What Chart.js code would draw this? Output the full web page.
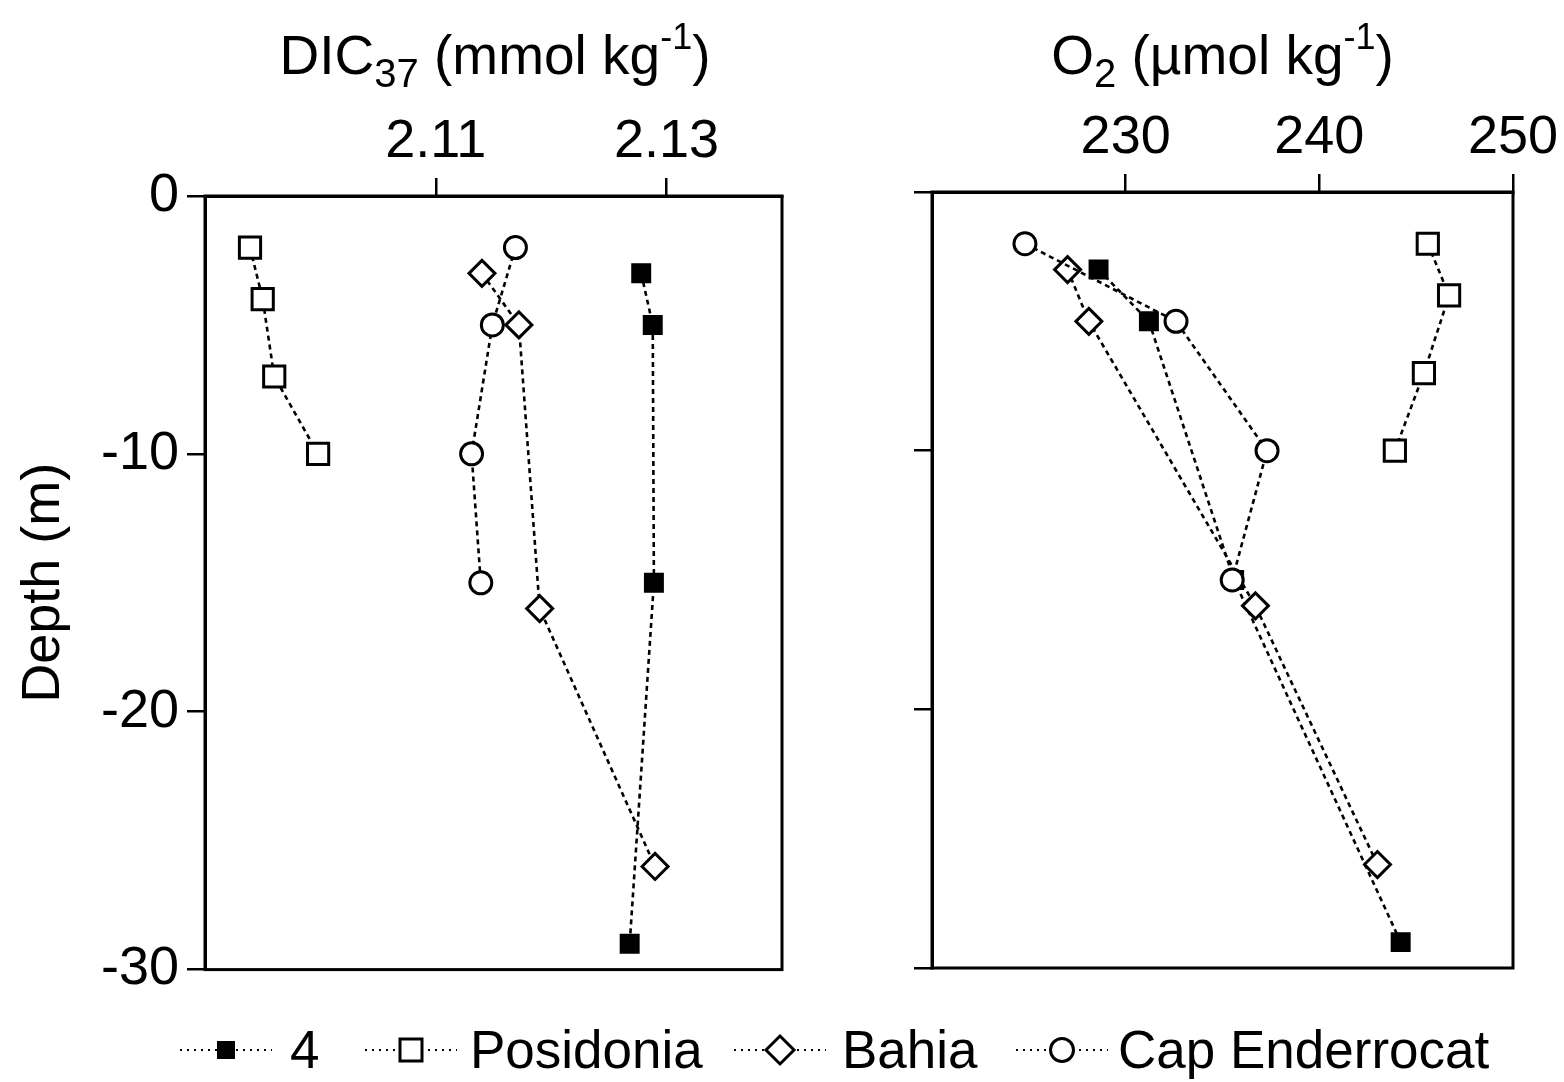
<!DOCTYPE html>
<html>
<head>
<meta charset="utf-8">
<script src="https://cdn.jsdelivr.net/npm/chart.js@4.4.1/dist/chart.umd.min.js"></script>
<style>
  body { margin: 0; background: #fff; width: 1564px; height: 1082px; overflow: hidden; position: relative;
         font-family: 'Liberation Sans', Arial, sans-serif; color: #000; }
  canvas { position: absolute; top: 0; }
  #dicChart { left: 0; }
  #o2Chart { left: 810px; }
  .axisTitle { position: absolute; top: 28px; font-size: 55px; line-height: 55px; text-align: center; white-space: nowrap; }
  .axisTitle sub { font-size: 40px; vertical-align: -13px; line-height: 0; }
  .axisTitle sup { font-size: 36px; vertical-align: 25px; line-height: 0; }
  .sample { position: absolute; top: 1030px; }
  .label { position: absolute; top: 1023px; font-size: 53px; line-height: 53px; white-space: nowrap; }
</style>
</head>
<body>
<canvas id="dicChart" width="800" height="1010"></canvas>
<canvas id="o2Chart" width="754" height="1010"></canvas>
<div class="axisTitle" style="left:205px;width:580px;">DIC<sub>37</sub> (mmol kg<sup>-1</sup>)</div>
<div class="axisTitle" style="left:932px;width:581px;">O<sub>2</sub> (µmol kg<sup>-1</sup>)</div>
<div id="legend"></div>
<script>
// series names and depth (m) of each sample
const seriesNames = ['4', 'Posidonia', 'Bahia', 'Cap Enderrocat'];
const depth4 = [-3, -5, -15, -29];
const depthPosidonia = [-2, -4, -7, -10];
const depthBahia = [-3, -5, -16, -26];
const depthCap = [-2, -5, -10, -15];

// DIC37 (mmol kg-1)
const dic4 = [2.1278, 2.1288, 2.1289, 2.1268];
const dicPosidonia = [2.0939, 2.0950, 2.0960, 2.0998];
const dicBahia = [2.1140, 2.1172, 2.1190, 2.1290];
const dicCap = [2.1169, 2.1149, 2.1131, 2.1139];

// O2 (umol kg-1)
const o2_4 = [228.6, 231.2, 235.6, 244.2];
const o2Posidonia = [245.6, 246.7, 245.4, 243.9];
const o2Bahia = [227.0, 228.1, 236.7, 243.0];
const o2Cap = [224.8, 232.6, 237.3, 235.5];

// ticks
const dicTicks = [2.11, 2.13];
const o2Ticks = [230, 240, 250];
const depthTicks = [0, -10, -20, -30];

const FONT = "'Liberation Sans', Arial, sans-serif";

const markers = [
    { pointStyle: 'rect', radius: 12, fill: '#000' },
    { pointStyle: 'rect', radius: 15, fill: '#fff' },
    { pointStyle: 'rectRot', radius: 13, fill: '#fff' },
    { pointStyle: 'circle', radius: 11, fill: '#fff' }
];

const depths = [depth4, depthPosidonia, depthBahia, depthCap];

function makeDatasets(values) {
    // order: circles end up drawn on top
    return values.map((vals, i) => ({
        label: seriesNames[i],
        data: vals.map((v, j) => ({ x: v, y: depths[i][j] })),
        showLine: true,
        borderColor: '#000',
        borderWidth: 2.6,
        borderDash: [5, 4],
        pointStyle: markers[i].pointStyle,
        pointRadius: markers[i].radius,
        pointHoverRadius: markers[i].radius,
        pointBackgroundColor: markers[i].fill,
        pointBorderColor: '#000',
        pointBorderWidth: 3,
        order: 3 - i
    }));
}

const boxPlugin = {
    id: 'box',
    beforeDatasetsDraw(chart) {
        const { ctx, chartArea: a } = chart;
        ctx.save();
        ctx.strokeStyle = '#000';
        ctx.lineWidth = 3;
        ctx.strokeRect(a.left, a.top, a.right - a.left, a.bottom - a.top);
        ctx.restore();
    }
};

function xAxis(min, max, ticks, height, fmt) {
    return {
        type: 'linear', position: 'top', min: min, max: max,
        afterBuildTicks: s => { s.ticks = ticks.map(v => ({ value: v })); },
        afterFit: s => { s.height = height; },
        ticks: { color: '#000', font: { family: FONT, size: 54 }, padding: 3, maxRotation: 0, autoSkip: false, callback: fmt },
        grid: { display: true, drawOnChartArea: false, drawTicks: true, tickLength: 18, color: '#000', lineWidth: 2.5 },
        border: { display: true, color: '#000', width: 3 }
    };
}

function yAxis(width, showLabels) {
    return {
        type: 'linear', position: 'left', min: -30, max: 0,
        afterBuildTicks: s => { s.ticks = depthTicks.map(v => ({ value: v })); },
        afterFit: s => { s.width = width; },
        ticks: { color: '#000', font: { family: FONT, size: 54 }, padding: 8, autoSkip: false,
                 callback: v => showLabels ? String(v) : '' },
        grid: { display: true, drawOnChartArea: false, drawTicks: true, tickLength: 18, color: '#000', lineWidth: 2.5 },
        border: { display: true, color: '#000', width: 3 },
        title: { display: showLabels, text: 'Depth (m)', color: '#000', font: { family: FONT, size: 54 }, padding: { top: 12, bottom: 4 } }
    };
}

function makeChart(id, values, xScale, yScale, padding) {
    return new Chart(document.getElementById(id).getContext('2d'), {
        type: 'scatter',
        data: { datasets: makeDatasets(values) },
        options: {
            responsive: false,
            animation: false,
            layout: { padding: padding },
            plugins: { legend: { display: false }, tooltip: { enabled: false } },
            scales: { x: xScale, y: yScale }
        },
        plugins: [boxPlugin]
    });
}

makeChart('dicChart', [dic4, dicPosidonia, dicBahia, dicCap],
    xAxis(2.09, 2.14, dicTicks, 196, v => v.toFixed(2)), yAxis(205, true),
    { left: 0, top: 0, right: 15, bottom: 39 });

makeChart('o2Chart', [o2_4, o2Posidonia, o2Bahia, o2Cap],
    xAxis(220, 250, o2Ticks, 192, v => String(v)), yAxis(122, false),
    { left: 0, top: 0, right: 51, bottom: 42 });

// legend: dotted line + marker sample, then the name
const markerSvg = [
    '<rect x="37" y="11" width="18" height="18" fill="#000"/>',
    '<rect x="35" y="9" width="22" height="22" fill="#fff" stroke="#000" stroke-width="3"/>',
    '<polygon points="46,6 60,20 46,34 32,20" fill="#fff" stroke="#000" stroke-width="3"/>',
    '<circle cx="46" cy="20" r="11.5" fill="#fff" stroke="#000" stroke-width="3"/>'
];
const sampleLeft = [180, 365, 734, 1016];
const labelLeft = [290, 470, 842, 1118];
const legend = document.getElementById('legend');
seriesNames.forEach((name, i) => {
    const s = document.createElement('div');
    s.className = 'sample';
    s.style.left = sampleLeft[i] + 'px';
    s.innerHTML = '<svg width="92" height="40"><line x1="0" y1="20" x2="92" y2="20" stroke="#000" stroke-width="2" stroke-dasharray="2 5"/>' +
        markerSvg[i] + '</svg>';
    legend.appendChild(s);
    const t = document.createElement('div');
    t.className = 'label';
    t.style.left = labelLeft[i] + 'px';
    t.textContent = name;
    legend.appendChild(t);
});
</script>
</body>
</html>
